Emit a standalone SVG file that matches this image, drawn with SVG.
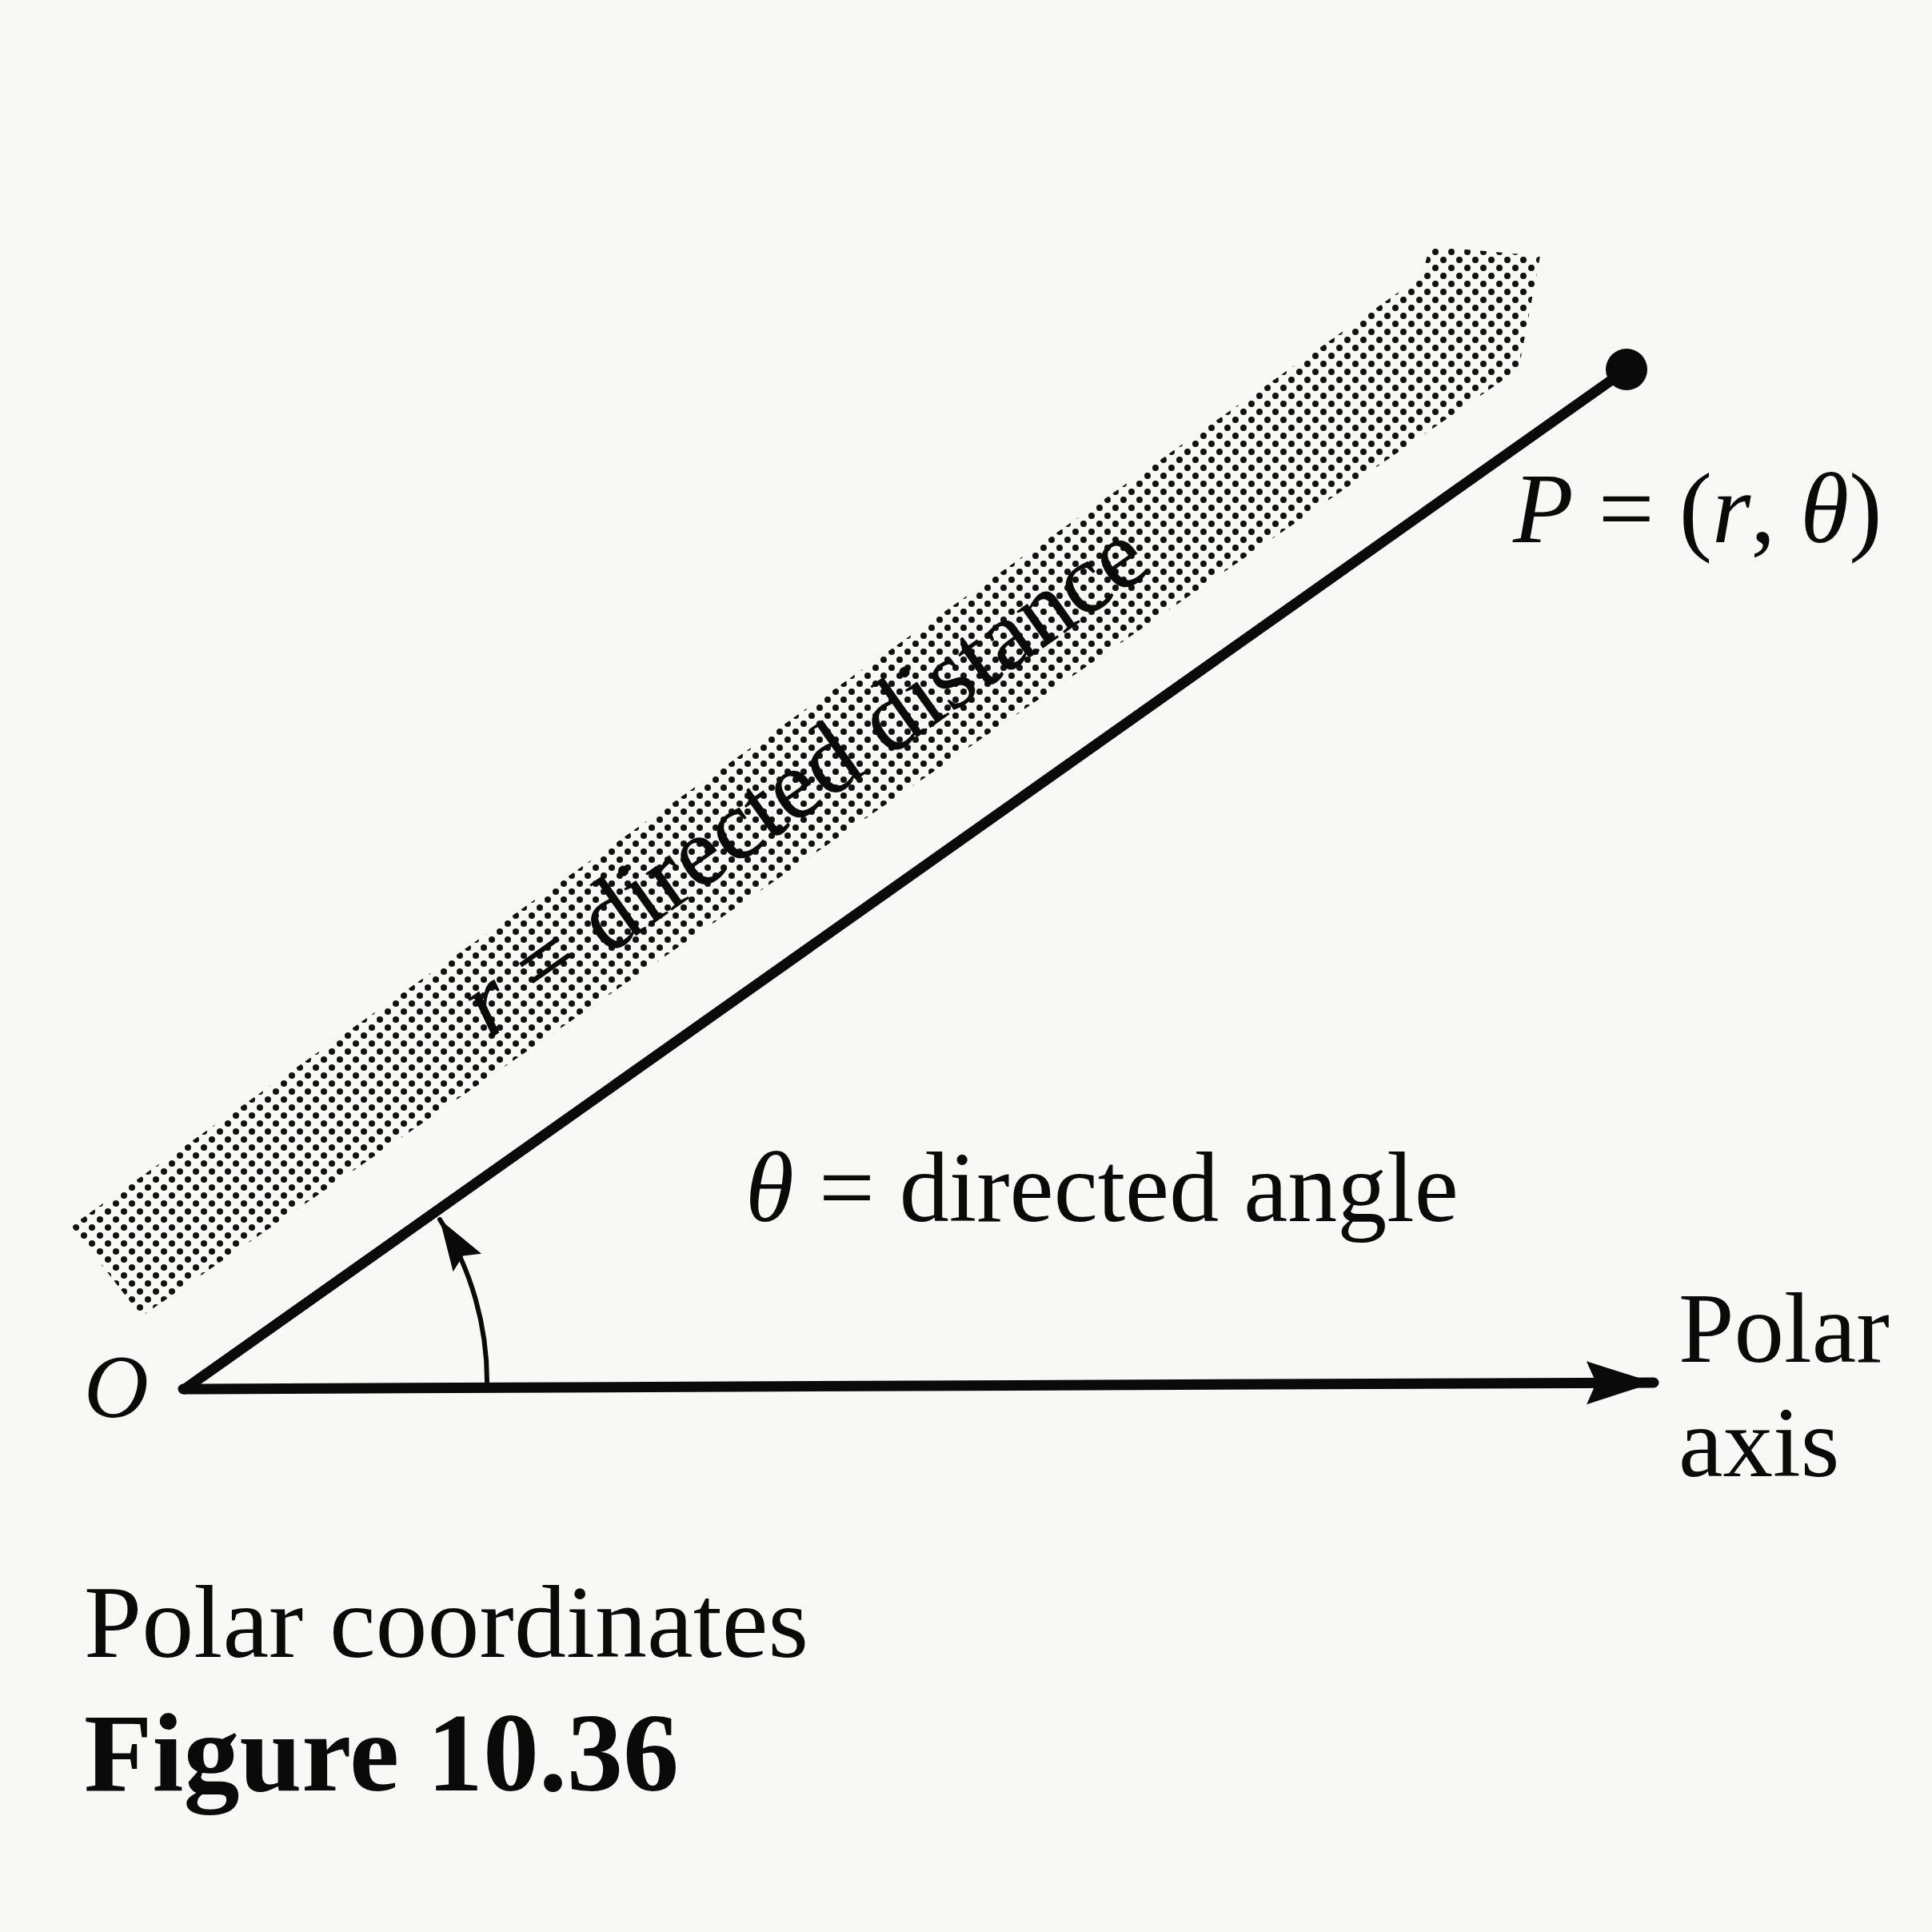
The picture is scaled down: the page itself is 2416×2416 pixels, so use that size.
<svg xmlns="http://www.w3.org/2000/svg" width="2416" height="2416" viewBox="0 0 2416 2416">
<style>
.t{font-family:"Liberation Serif","Times New Roman",serif;fill:#0a0a0a}
.i{font-style:italic}
.b{font-weight:bold}
.ln{stroke:#0a0a0a;fill:none;stroke-linecap:round}
</style>
<defs>
<pattern id="dots" width="20" height="20" patternUnits="userSpaceOnUse">
<circle cx="5" cy="5" r="4" fill="#111"/>
<circle cx="15" cy="15" r="4" fill="#111"/>
</pattern>
<marker id="axArrow" markerUnits="userSpaceOnUse" markerWidth="100" markerHeight="64" viewBox="-90 -32 100 64" refX="0" refY="0" orient="auto">
<path d="M0,0 L-84,-27 L-72,0 L-84,27 Z" fill="#0a0a0a"/>
</marker>
<marker id="arcArrow" markerUnits="userSpaceOnUse" markerWidth="80" markerHeight="60" viewBox="-70 -30 80 60" refX="0" refY="0" orient="auto">
<path d="M0,0 L-64,-21 L-54,0 L-64,21 Z" fill="#0a0a0a"/>
</marker>
</defs>
<rect width="2416" height="2416" fill="#f8f8f6"/>

<g id="band">
<polygon points="89,1533 1778,345 1788,308 1926,320 1899,462 177,1646" fill="url(#dots)"/>
<text class="t" font-size="124" transform="translate(612,1300) rotate(-35.25)"><tspan class="i">r</tspan> = directed distance</text>
</g>

<g id="connectors">
<line id="ray" class="ln" x1="231" y1="1737" x2="2034" y2="462" stroke-width="13"/>
<line id="polar-axis" class="ln" x1="229" y1="1737" x2="2068" y2="1729" stroke-width="13" marker-end="url(#axArrow)"/>
<path id="angle-arc" class="ln" d="M609,1733 A378,378 0 0 0 550,1525" stroke-width="6" marker-end="url(#arcArrow)"/>
</g>

<g id="node-O">
<text class="t i" x="105" y="1772" font-size="112">O</text>
</g>

<g id="node-P">
<circle cx="2034" cy="462" r="26" fill="#0a0a0a"/>
<text class="t" x="1892" y="678" font-size="124"><tspan class="i">P</tspan> = (<tspan class="i">r</tspan>, <tspan class="i">θ</tspan>)</text>
</g>

<g id="angle-label">
<text class="t" x="932" y="1527" font-size="124"><tspan class="i">θ</tspan> = directed angle</text>
</g>

<g id="axis-label">
<text class="t" x="2099" y="1703" font-size="125">Polar</text>
<text class="t" x="2099" y="1846" font-size="125">axis</text>
</g>

<g id="caption">
<text class="t" x="105" y="2072" font-size="130">Polar coordinates</text>
<text class="t b" x="105" y="2239" font-size="140">Figure 10.36</text>
</g>
</svg>
